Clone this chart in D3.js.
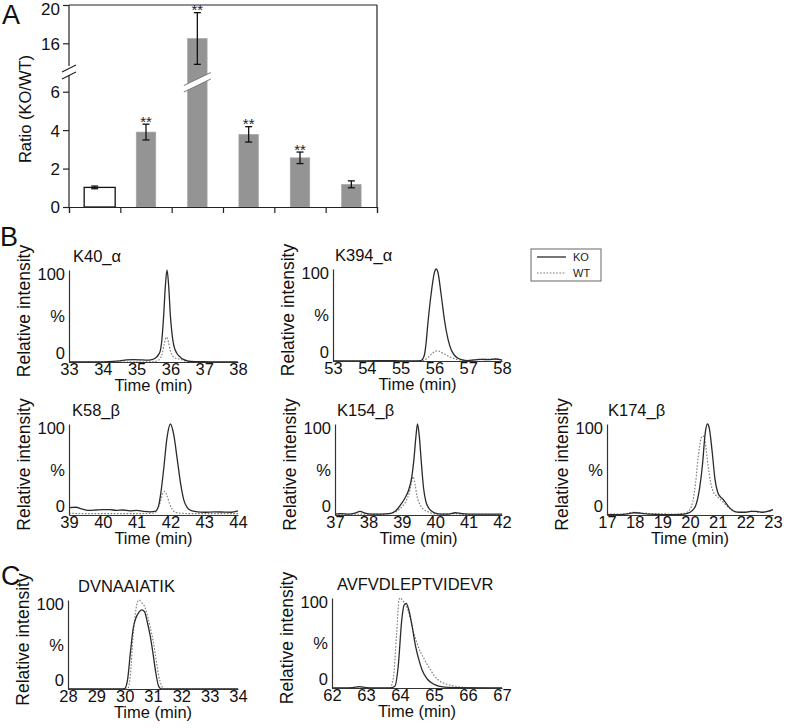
<!DOCTYPE html>
<html>
<head>
<meta charset="utf-8">
<script src="https://cdn.jsdelivr.net/npm/d3@7"></script>
<style>
  html, body { margin: 0; padding: 0; background: #fff; }
  svg { display: block; font-family: "Liberation Sans", Arial, sans-serif; }
</style>
</head>
<body>
<svg id="chart" width="787" height="728"></svg>
<script>
// ---------------- DATA ----------------
// Panel A
const barCategories = ["Control", "K40_α", "K394_α", "K58_β", "K154_β", "K174_β"];
const barValues = [1.02, 3.9, 16.5, 3.78, 2.56, 1.18];
const barErrors = [0.07, 0.41, 2.7, 0.4, 0.3, 0.18];
const barSignificance = ["", "**", "**", "**", "**", ""];
const ratioTicks = [0, 2, 4, 6, 16, 20];
const ratioBreak = [7.13, 13.21];

// Panel B / C chromatograms: [time (min), relative intensity (%)]
const k40KO = [[33,0],[33.5,0],[34,0.2],[34.3,0.6],[34.5,1.2],[34.7,2.2],[34.9,2.6],[35.1,2.4],[35.3,2.0],[35.45,2.6],[35.55,4],[35.65,8],[35.7,12],[35.75,25],[35.8,50],[35.85,82],[35.9,100],[35.95,82],[36.0,50],[36.05,30],[36.1,18],[36.2,9],[36.3,5],[36.4,2.5],[36.5,1.2],[36.6,0.6],[36.8,0.4],[37,0.3],[37.5,0.1],[38,0]];
const k40WT = [[33,0],[35,0],[35.5,0.3],[35.65,2],[35.75,8],[35.82,20],[35.88,27],[35.94,22],[36.0,12],[36.08,6],[36.2,3.5],[36.3,3],[36.4,1.5],[36.55,0.5],[36.7,0],[38,0]];
const k394KO = [[53,0],[53.5,0.2],[54,0.1],[54.5,0.4],[55,0.2],[55.4,0.1],[55.6,0.5],[55.7,6],[55.75,18],[55.8,38],[55.9,72],[56.0,96],[56.05,100],[56.1,97],[56.2,72],[56.3,44],[56.4,24],[56.5,12],[56.6,6],[56.7,3],[56.8,1.5],[57.0,0.5],[57.2,1.2],[57.4,1.8],[57.6,1.5],[57.8,2.2],[57.95,1.5],[58,0.5]];
const k394WT = [[53,0],[55.6,0],[55.7,1],[55.8,3.5],[55.9,7],[56.0,10],[56.08,11],[56.15,10.5],[56.25,8.5],[56.35,6.5],[56.45,4.5],[56.55,3],[56.7,1.5],[56.9,0.5],[57.1,1],[57.3,1.8],[57.6,2],[57.85,2.2],[58,1]];
const k58KO = [[39,8],[39.2,8.5],[39.4,6.5],[39.6,5],[39.8,5.5],[40,6],[40.2,6],[40.4,5],[40.6,5.5],[40.8,4.5],[41,5],[41.2,4],[41.4,3.5],[41.55,4],[41.65,10],[41.72,25],[41.8,50],[41.9,85],[42.0,100],[42.1,88],[42.2,62],[42.3,35],[42.4,16],[42.5,8],[42.6,5],[42.8,3.5],[43,3],[43.3,3.5],[43.6,3.2],[43.8,3],[44,4.5]];
const k58WT = [[39,2],[39.5,1.5],[40,1.5],[40.5,1.5],[41,1.5],[41.5,2],[41.6,5],[41.7,14],[41.78,24],[41.84,26],[41.9,21],[41.98,12],[42.06,6],[42.15,3],[42.3,2],[42.6,1.5],[43,1.5],[44,1.5]];
const k154KO = [[37,1],[37.2,1.5],[37.4,1],[37.6,2],[37.75,4],[37.9,2],[38.1,1],[38.3,1],[38.5,1.2],[38.7,2],[38.8,4],[38.9,8],[39.0,13],[39.1,19],[39.2,27],[39.3,42],[39.36,60],[39.42,85],[39.47,100],[39.52,88],[39.58,60],[39.65,30],[39.72,15],[39.8,8],[39.9,4],[40.0,2],[40.2,1],[40.4,1],[40.6,2.5],[40.8,1.5],[41,1],[41.5,1],[42,1]];
const k154WT = [[37,1],[37.5,0.8],[38,1],[38.5,1],[38.7,2],[38.85,4],[38.95,7],[39.05,11],[39.15,17],[39.22,24],[39.28,34],[39.34,42],[39.4,33],[39.46,20],[39.55,11],[39.65,6],[39.75,4],[39.85,2.5],[40,1],[40.5,1.5],[41,0.5],[42,0.5]];
const k174KO = [[17,0.5],[17.5,0.5],[17.8,1.5],[18.0,2.5],[18.2,2],[18.5,1],[19,0.5],[19.5,0.5],[19.8,1],[20.0,3],[20.2,10],[20.35,30],[20.45,55],[20.55,90],[20.63,100],[20.7,95],[20.8,70],[20.9,40],[21.0,25],[21.1,20],[21.2,17],[21.3,13],[21.4,9],[21.5,6],[21.6,4],[21.8,3],[22.0,3],[22.2,4],[22.4,4],[22.6,3],[22.8,4],[23,6]];
const k174WT = [[17,1],[17.5,1],[18,3],[18.3,2],[18.8,1.5],[19.5,1],[19.8,2],[20.0,6],[20.1,15],[20.2,35],[20.3,65],[20.4,84],[20.47,87],[20.55,80],[20.65,55],[20.75,35],[20.85,25],[21.0,20],[21.1,17],[21.2,14],[21.4,8],[21.6,4],[21.8,3],[22,3],[22.2,4],[22.5,3],[23,5]];
const dvnKO = [[28,0],[29.9,0],[30.0,0.5],[30.1,10],[30.2,40],[30.3,68],[30.4,80],[30.5,86],[30.6,89],[30.7,87],[30.8,75],[30.9,60],[31.0,40],[31.1,18],[31.2,3],[31.3,0],[34,0]];
const dvnWT = [[28,0],[30.1,0],[30.2,15],[30.3,60],[30.4,90],[30.5,100],[30.6,97],[30.7,93],[30.8,83],[30.9,70],[31.0,55],[31.1,35],[31.2,15],[31.3,4],[31.4,0],[34,0]];
const avfKO = [[62,0],[62.6,0.5],[62.8,1.5],[63.0,0.5],[63.2,0],[63.7,0],[63.85,2],[63.95,25],[64.05,75],[64.12,92],[64.18,94],[64.25,88],[64.35,70],[64.45,48],[64.55,32],[64.65,20],[64.8,10],[65.0,4],[65.3,1],[65.6,0.5],[67,0]];
const avfWT = [[62,0],[63.7,0],[63.8,10],[63.9,60],[63.97,98],[64.0,100],[64.1,96],[64.2,90],[64.3,78],[64.4,62],[64.5,50],[64.6,40],[64.7,33],[64.8,26],[64.9,20],[65.0,14],[65.2,7],[65.4,4],[65.7,1.5],[66.0,0.5],[67,0]];

const legendLabels = ["KO", "WT"];
const intensityTicks = [0, 50, 100];

// ---------------- LAYOUT ----------------
const FONT = 16.5;
const svg = d3.select("#chart");
const ink = "#222";
const FF = "'Liberation Sans', Arial, sans-serif";

// Panel letters
[["A", 2, 24], ["B", 0, 246], ["C", 1, 585]].forEach(([t, x, y]) => {
  svg.append("text").attr("x", x).attr("y", y).attr("font-size", 27).attr("fill", "#111").text(t);
});

// ---------------- PANEL A ----------------
(function panelA() {
  const left = 69, right = 377, top = 5, bottom = 207;
  const g = svg.append("g");
  const x = d3.scaleBand().domain(barCategories).range([left, right]);
  const y = d3.scaleLinear()
    .domain([0, ratioBreak[0], ratioBreak[1], 20])
    .range([bottom, 70, 70, top]);
  const bw = x.bandwidth();

  // frame top & right
  g.append("line").attr("x1", left).attr("x2", right).attr("y1", top).attr("y2", top)
    .attr("stroke", ink).attr("stroke-width", 1.2);
  g.append("line").attr("x1", right).attr("x2", right).attr("y1", top).attr("y2", bottom)
    .attr("stroke", ink).attr("stroke-width", 1.2);

  // bars
  barCategories.forEach((c, i) => {
    const cx = x(c) + bw / 2;
    const v = barValues[i];
    if (i === 0) {
      g.append("rect").attr("x", cx - 10.5).attr("width", 31)
        .attr("y", y(v)).attr("height", bottom - y(v))
        .attr("fill", "#fff").attr("stroke", "#111").attr("stroke-width", 1.3);
    } else {
      g.append("rect").attr("x", cx - 9.8).attr("width", 19.6)
        .attr("y", y(v)).attr("height", bottom - y(v))
        .attr("fill", "#949494").attr("stroke", "#a8a8a8").attr("stroke-width", 0.6);
    }
  });

  // bar break mark (on tall bar)
  barCategories.forEach((c, i) => {
    if (barValues[i] > ratioBreak[1]) {
      const cx = x(c) + bw / 2;
      const yb = y(ratioBreak[0]);
      const pts = [[cx - 13.5, yb + 15.5], [cx + 13.5, yb + 2.5], [cx + 13.5, yb + 9], [cx - 13.5, yb + 22]];
      g.append("polygon").attr("points", pts.map(p => p.join(",")).join(" ")).attr("fill", "#fff");
      g.append("line").attr("x1", pts[0][0]).attr("y1", pts[0][1]).attr("x2", pts[1][0]).attr("y2", pts[1][1])
        .attr("stroke", "#777").attr("stroke-width", 1);
      g.append("line").attr("x1", pts[3][0]).attr("y1", pts[3][1]).attr("x2", pts[2][0]).attr("y2", pts[2][1])
        .attr("stroke", "#777").attr("stroke-width", 1);
    }
  });

  // error bars
  barCategories.forEach((c, i) => {
    const cx = x(c) + bw / 2;
    const hi = y(barValues[i] + barErrors[i]);
    const lo = y(barValues[i] - barErrors[i]);
    const eg = g.append("g").attr("stroke", "#111").attr("stroke-width", 1.3);
    eg.append("line").attr("x1", cx).attr("x2", cx).attr("y1", hi).attr("y2", lo);
    eg.append("line").attr("x1", cx - 3.5).attr("x2", cx + 3.5).attr("y1", hi).attr("y2", hi);
    eg.append("line").attr("x1", cx - 3.5).attr("x2", cx + 3.5).attr("y1", lo).attr("y2", lo);
    if (barSignificance[i]) {
      g.append("text").attr("x", cx).attr("y", hi + 2.5).attr("text-anchor", "middle")
        .attr("font-size", 15).attr("fill", "#222").text(barSignificance[i]);
    }
  });

  // bottom axis with ticks at band boundaries
  const xb = d3.scaleLinear().domain([0, barCategories.length]).range([left, right]);
  const xAxis = d3.axisBottom(xb).ticks(barCategories.length).tickSize(6).tickSizeOuter(6).tickFormat("");
  const gx = g.append("g").attr("transform", `translate(0,${bottom})`).call(xAxis);
  gx.selectAll("path,line").attr("stroke", ink).attr("stroke-width", 1.2);

  // left axis (broken)
  const yAxis = d3.axisLeft(y).tickValues(ratioTicks).tickSize(6).tickPadding(3);
  const gy = g.append("g").attr("transform", `translate(${left},0)`).call(yAxis);
  gy.select(".domain").remove();
  gy.selectAll("line").attr("stroke", ink).attr("stroke-width", 1.2);
  gy.selectAll("text").attr("font-size", 17).attr("fill", "#111").attr("font-family", FF)
    .attr("dy", v => v === 20 ? "0.55em" : "0.35em");
  const yb = y(ratioBreak[0]);
  g.append("line").attr("x1", left).attr("x2", left).attr("y1", top).attr("y2", yb - 4)
    .attr("stroke", ink).attr("stroke-width", 1.2);
  g.append("line").attr("x1", left).attr("x2", left).attr("y1", yb + 5).attr("y2", bottom)
    .attr("stroke", ink).attr("stroke-width", 1.2);
  [[-1.5], [5.5]].forEach(([d]) => {
    g.append("line").attr("x1", left - 7).attr("y1", yb + d + 3.5).attr("x2", left + 7).attr("y2", yb + d - 3.5)
      .attr("stroke", ink).attr("stroke-width", 1.2);
  });

  // y label
  g.append("text").attr("transform", `translate(31,${(top + bottom) / 2 + 3}) rotate(-90)`)
    .attr("text-anchor", "middle").attr("font-size", 16.5).attr("fill", "#111").text("Ratio (KO/WT)");
})();

// ---------------- CHROMATOGRAMS ----------------
const panels = [
  { title: "K40_α", ko: k40KO, wt: k40WT, domain: [33, 38], x0: 69, x1: 238, yTop: 270, yBot: 362, tdx: 4 },
  { title: "K394_α", ko: k394KO, wt: k394WT, domain: [53, 58], x0: 333, x1: 502, yTop: 269, yBot: 361, tdx: 2 },
  { title: "K58_β", ko: k58KO, wt: k58WT, domain: [39, 44], x0: 69, x1: 238, yTop: 424, yBot: 515, tdx: 3 },
  { title: "K154_β", ko: k154KO, wt: k154WT, domain: [37, 42], x0: 335, x1: 502, yTop: 424, yBot: 515, tdx: 2 },
  { title: "K174_β", ko: k174KO, wt: k174WT, domain: [17, 23], x0: 607, x1: 773, yTop: 424, yBot: 515, tdx: 1 },
  { title: "DVNAAIATIK", ko: dvnKO, wt: dvnWT, domain: [28, 34], x0: 68, x1: 238, yTop: 600, yBot: 689, tdx: 10 },
  { title: "AVFVDLEPTVIDEVR", ko: avfKO, wt: avfWT, domain: [62, 67], x0: 332, x1: 502, yTop: 598, yBot: 688, tdx: 5 }
];

panels.forEach(p => {
  const g = svg.append("g");
  const x = d3.scaleLinear().domain(p.domain).range([p.x0, p.x1]);
  const y = d3.scaleLinear().domain([0, 100]).range([p.yBot, p.yTop]);
  const line = d3.line().x(d => x(d[0])).y(d => y(d[1])).curve(d3.curveMonotoneX);

  g.append("path").datum(p.wt).attr("d", line).attr("fill", "none")
    .attr("stroke", "#7a7a7a").attr("stroke-width", 1.1).attr("stroke-dasharray", "1.6,1.6");
  g.append("path").datum(p.ko).attr("d", line).attr("fill", "none")
    .attr("stroke", "#2a2a2a").attr("stroke-width", 1.3);

  const ticks = d3.range(p.domain[0], p.domain[1] + 1);
  const gx = g.append("g").attr("transform", `translate(0,${p.yBot})`)
    .call(d3.axisBottom(x).tickValues(ticks).tickSize(0).tickPadding(1).tickFormat(d3.format("d")));
  gx.select(".domain").attr("stroke", "#333").attr("stroke-width", 1.2);
  gx.selectAll("text").attr("font-size", FONT).attr("fill", "#111").attr("font-family", FF);

  const gy = g.append("g").attr("transform", `translate(${p.x0},0)`)
    .call(d3.axisLeft(y).tickValues(intensityTicks).tickSize(0).tickPadding(4)
      .tickFormat(v => v === 50 ? "%" : String(v)));
  gy.select(".domain").attr("stroke", "#333").attr("stroke-width", 1.2);
  gy.selectAll("text").attr("font-size", FONT).attr("fill", "#111").attr("font-family", FF)
    .attr("dy", v => v === 100 ? "0.6em" : (v === 0 ? "-0.2em" : "0.35em"));

  g.append("text").attr("x", p.x0 + p.tdx).attr("y", p.yTop - 8)
    .attr("font-size", FONT).attr("fill", "#111").text(p.title);

  g.append("text").attr("x", (p.x0 + p.x1) / 2).attr("y", p.yBot + 29)
    .attr("text-anchor", "middle").attr("font-size", FONT).attr("fill", "#111").text("Time (min)");

  g.append("text").attr("transform", `translate(${p.x0 - 39},${(p.yTop + p.yBot) / 2 - 5}) rotate(-90)`)
    .attr("text-anchor", "middle").attr("font-size", 17.5).attr("fill", "#111").text("Relative intensity");
});

// ---------------- LEGEND ----------------
(function legend() {
  const g = svg.append("g").attr("transform", "translate(531,249)");
  g.append("rect").attr("width", 70).attr("height", 32).attr("fill", "#fff")
    .attr("stroke", "#666").attr("stroke-width", 1);
  legendLabels.forEach((lab, i) => {
    const yy = 8 + i * 16;
    g.append("line").attr("x1", 6).attr("x2", 35).attr("y1", yy).attr("y2", yy)
      .attr("stroke", i === 0 ? "#2a2a2a" : "#7a7a7a").attr("stroke-width", i === 0 ? 1.3 : 1.1)
      .attr("stroke-dasharray", i === 0 ? null : "1.6,1.6");
    g.append("text").attr("x", 42).attr("y", yy + 4).attr("font-size", 11).attr("fill", "#222").text(lab);
  });
})();
</script>
</body>
</html>
